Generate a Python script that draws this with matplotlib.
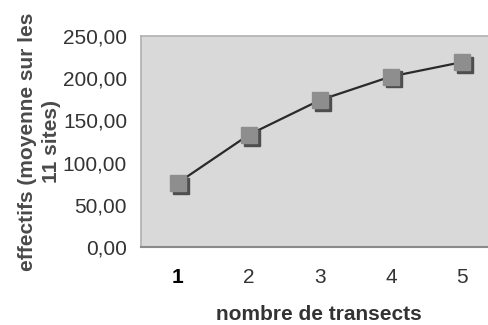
import matplotlib
matplotlib.use("Agg")
import matplotlib.pyplot as plt
from matplotlib.ticker import FuncFormatter

plt.rcParams['font.family'] = ['Liberation Sans', 'DejaVu Sans']

transects = [1, 2, 3, 4, 5]
effectifs = [76, 133, 174, 202, 219]
y_ticks = [0, 50, 100, 150, 200, 250]

fig = plt.figure(figsize=(4.88, 3.25), dpi=100)
ax = fig.add_axes([141 / 488, 1 - 247 / 325, 355 / 488, 211 / 325])
ax.set_facecolor('#d9d9d9')

ax.plot(transects, effectifs, color='#2a2a2a', lw=1.6, zorder=2)
# shadowed square markers
ax.plot([t + 0.05 for t in transects], [e - 3.5 for e in effectifs], ls='none',
        marker='s', ms=11.5, color='#4e4e4e', zorder=3)
ax.plot(transects, effectifs, ls='none', marker='s', ms=11.5,
        color='#8e8e8e', zorder=4)

ax.set_xlim(0.48, 5.48)
ax.set_ylim(0, 250)
ax.set_yticks(y_ticks)
ax.yaxis.set_major_formatter(FuncFormatter(lambda v, p: f"{v:.2f}".replace('.', ',')))
ax.set_xticks(transects)

for s in ['top', 'right', 'left']:
    ax.spines[s].set_color('#b0b0b0')
    ax.spines[s].set_linewidth(1.2)
ax.spines['bottom'].set_color('#8a8a8a')
ax.spines['bottom'].set_linewidth(1.5)

ax.tick_params(axis='both', length=0, labelsize=15, labelcolor='#333333')
ax.tick_params(axis='y', pad=10)
ax.tick_params(axis='x', pad=15)
first = ax.get_xticklabels()[0]
first.set_color('#000000')
first.set_fontweight('bold')

ax.set_xlabel('nombre de transects', fontsize=15, fontweight='bold',
              color='#333333', labelpad=13)
ax.set_ylabel('effectifs (moyenne sur les\n11 sites)', fontsize=15,
              fontweight='bold', color='#4a4a4a', labelpad=1, linespacing=1.35)

fig.savefig('out.png', dpi=100)
